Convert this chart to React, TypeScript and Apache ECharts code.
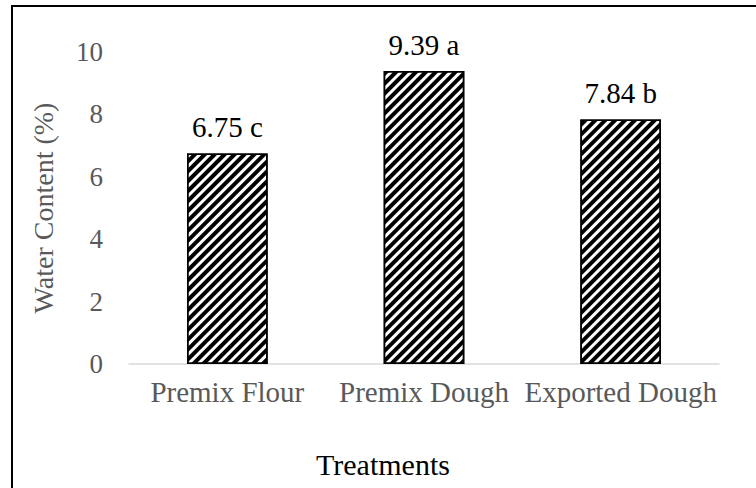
import React, { useEffect, useRef } from "react";
import * as echarts from "echarts";

const categories = ["Premix Flour", "Premix Dough", "Exported Dough"];
const values = [6.75, 9.39, 7.84];
const letters = ["c", "a", "b"];
const yTicks = [0, 2, 4, 6, 8, 10];

const FONT = "Liberation Serif";

export default function App() {
  const ref = useRef<HTMLDivElement>(null);
  useEffect(() => {
    if (!ref.current) return;
    const chart = echarts.init(ref.current, null, { renderer: "svg" });
    const frame = {
      type: "rect",
      id: "frame",
      shape: { x: 12, y: 6, width: 900, height: 700 },
      style: { fill: "none", stroke: "#000", lineWidth: 2 },
      silent: true,
    };
    const xTitle = {
      type: "text",
      id: "xtitle",
      left: 316,
      top: 449,
      style: { text: "Treatments", fill: "#000", font: `30px ${FONT}` },
    };
    chart.setOption({
      animation: false,
      backgroundColor: "#fff",
      textStyle: { fontFamily: FONT },
      grid: { left: 129, right: 37, top: 52, bottom: 124, containLabel: false },
      xAxis: {
        type: "category",
        data: categories,
        axisLine: { show: true, lineStyle: { color: "#d9d9d9", width: 1.5 } },
        axisTick: { show: false },
        axisLabel: {
          interval: 0,
          hideOverlap: false,
          color: "#595959",
          fontFamily: FONT,
          fontSize: 29,
          margin: 13,
        },
      },
      yAxis: {
        type: "value",
        min: yTicks[0],
        max: yTicks[yTicks.length - 1],
        interval: 2,
        splitLine: { show: false },
        axisLine: { show: false },
        axisTick: { show: false },
        axisLabel: { color: "#595959", fontFamily: FONT, fontSize: 27, margin: 26 },
        name: "Water Content (%)",
        nameLocation: "middle",
        nameGap: 72,
        nameTextStyle: { color: "#595959", fontFamily: FONT, fontSize: 28 },
      },
      series: [
        {
          type: "bar",
          data: values,
          barWidth: "41%",
          itemStyle: {
            color: "#fff",
            borderColor: "#000",
            borderWidth: 1.5,
            decal: {
              symbol: "rect",
              symbolSize: 1,
              dashArrayX: [1, 0],
              dashArrayY: [3.5, 2.5],
              rotation: -Math.PI / 4,
              color: "#000",
            },
          },
        },
      ],
      graphic: [xTitle, frame],
    });
    const labels = values.map((v, i) => {
      const pt = chart.convertToPixel({ seriesIndex: 0 }, [i, v]) as number[];
      return {
        type: "text",
        id: "lbl" + i,
        x: pt[0],
        y: pt[1] - 12,
        style: {
          text: `${v.toFixed(2)} ${letters[i]}`,
          fill: "#000",
          font: `29px ${FONT}`,
          textAlign: "center",
          textVerticalAlign: "bottom",
        },
        silent: true,
      };
    });
    chart.setOption({ graphic: [xTitle, frame, ...labels] });
    return () => chart.dispose();
  }, []);
  return (
    <div
      ref={ref}
      style={{ position: "fixed", left: 0, top: 0, width: 756, height: 488 }}
    />
  );
}
